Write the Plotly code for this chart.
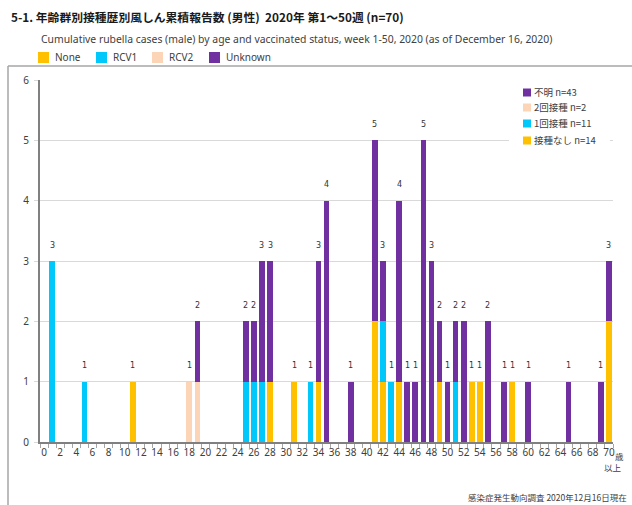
import plotly.graph_objects as go

ages = list(range(71))
tick_vals = list(range(0, 71, 2))
tick_text = [str(v) for v in range(0, 71, 2)]

# counts by age (index = age, 70 = 70歳以上)
none_vals = [0]*71
rcv1_vals = [0]*71
rcv2_vals = [0]*71
unknown_vals = [0]*71
for a, v in {11: 1, 28: 1, 31: 1, 34: 1, 41: 2, 42: 1, 44: 1, 49: 1, 53: 1, 54: 1, 58: 1, 70: 2}.items():
    none_vals[a] = v
for a, v in {1: 3, 5: 1, 25: 1, 26: 1, 27: 1, 33: 1, 42: 1, 43: 1, 51: 1}.items():
    rcv1_vals[a] = v
for a, v in {18: 1, 19: 1}.items():
    rcv2_vals[a] = v
for a, v in {19: 1, 25: 1, 26: 1, 27: 2, 28: 2, 34: 2, 35: 4, 38: 1, 41: 3, 42: 1, 44: 3,
             45: 1, 46: 1, 47: 5, 48: 3, 49: 1, 50: 1, 51: 1, 52: 2, 55: 2, 57: 1, 60: 1,
             65: 1, 69: 1, 70: 1}.items():
    unknown_vals[a] = v

series_names = ["None", "RCV1", "RCV2", "Unknown"]
series_names_jp = ["接種なし n=14", "1回接種 n=11", "2回接種 n=2", "不明 n=43"]
colors = ["#FFC000", "#00C8FA", "#FBD5B5", "#7030A0"]
series = [none_vals, rcv1_vals, rcv2_vals, unknown_vals]

totals = [sum(s[i] for s in series) for i in ages]

FONT = "Noto Sans, DejaVu Sans, Noto Sans CJK JP, sans-serif"
JFONT = "Noto Sans CJK JP, Noto Sans, sans-serif"
TXT = "#404040"

# plot-area pixel geometry (for legend placement in paper coords)
L, R, T, B = 40, 19, 80, 63
PW, PH = 632 - L - R, 505 - T - B
def px(x):
    return (x - L) / PW
def py(y):
    return (505 - B - y) / PH

fig = go.Figure()
for name, col, vals in zip(series_names, colors, series):
    fig.add_trace(go.Bar(x=ages, y=vals, name=name, marker_color=col,
                         marker_line_width=0, width=0.7, showlegend=False))

shapes = [
    dict(type="line", xref="paper", yref="paper", x0=px(8), x1=px(640), y0=py(66), y1=py(66),
         line=dict(color="#A6A6A6", width=1.5)),
    dict(type="line", xref="paper", yref="paper", x0=px(8), x1=px(8), y0=py(66), y1=py(515),
         line=dict(color="#A6A6A6", width=1.5)),
    # white background of the inner legend
    dict(type="rect", xref="paper", yref="paper", x0=px(509), x1=px(610), y0=py(150), y1=py(84),
         fillcolor="white", line=dict(width=0), layer="above"),
]
annotations = [
    dict(text="<b>5-1. 年齢群別接種歴別風しん累積報告数 (男性)  2020年 第1～50週 (n=70)</b>",
         xref="paper", yref="paper", x=px(9), y=py(17), xanchor="left", yanchor="middle",
         showarrow=False, font=dict(size=11.8, color="#1a1a1a", family=JFONT)),
    dict(text="Cumulative rubella cases (male) by age and vaccinated status, week 1-50, 2020 (as of December 16, 2020)",
         xref="paper", yref="paper", x=px(39), y=py(39), xanchor="left", yanchor="middle",
         showarrow=False, font=dict(size=10.4, color=TXT, family=FONT)),
    dict(text="感染症発生動向調査 2020年12月16日現在",
         xref="paper", yref="paper", x=px(466), y=py(497), xanchor="left", yanchor="middle",
         showarrow=False, font=dict(size=8.5, color=TXT, family=JFONT)),
    # "歳 / 以上" attached to the last tick label (70)
    dict(text="歳", x=70, xref="x", y=0, yref="y", xshift=10.5, yshift=-14, showarrow=False,
         xanchor="center", yanchor="middle", font=dict(size=8.5, color=TXT, family=JFONT)),
    dict(text="以上", x=70, xref="x", y=0, yref="y", xshift=4, yshift=-25, showarrow=False,
         xanchor="center", yanchor="middle", font=dict(size=8.5, color=TXT, family=JFONT)),
]

# top legend (English)
top_x = [38, 96, 152, 209]
for name, col, x0 in zip(series_names, colors, top_x):
    shapes.append(dict(type="rect", xref="paper", yref="paper", x0=px(x0), x1=px(x0 + 11),
                       y0=py(63), y1=py(52), fillcolor=col, line=dict(width=0)))
    annotations.append(dict(text=name, xref="paper", yref="paper", x=px(x0 + 15), y=py(57.5),
                            xanchor="left", yanchor="middle", showarrow=False,
                            font=dict(size=10, color=TXT, family=FONT)))

# inner legend (Japanese), reversed order
inner_y = [92, 107, 123, 140]
for (name, col), yc in zip(reversed(list(zip(series_names_jp, colors))), inner_y):
    shapes.append(dict(type="rect", xref="paper", yref="paper", x0=px(523), x1=px(531),
                       y0=py(yc + 4.5), y1=py(yc - 3.5), fillcolor=col, line=dict(width=0), layer="above"))
    annotations.append(dict(text=name, xref="paper", yref="paper", x=px(532), y=py(yc),
                            xanchor="left", yanchor="middle", showarrow=False,
                            font=dict(size=9.5, color=TXT, family=JFONT)))

# total labels above bars
for a in ages:
    if totals[a] > 0:
        annotations.append(dict(x=a, y=totals[a], text=str(totals[a]), showarrow=False,
                                yshift=16, xanchor="center", yanchor="middle",
                                font=dict(size=8, color="#333333", family="DejaVu Sans")))

fig.update_layout(
    width=632, height=505,
    barmode="stack",
    plot_bgcolor="white", paper_bgcolor="white",
    margin=dict(l=L, r=R, t=T, b=B, autoexpand=False),
    font=dict(family=FONT, size=10, color=TXT),
    showlegend=False,
    shapes=shapes,
    annotations=annotations,
)
fig.update_xaxes(range=[-0.5, 70.5], tickmode="array", tickvals=tick_vals, ticktext=tick_text,
                 tickangle=0, ticks="", showgrid=False, showline=True, linecolor="#808080", linewidth=2,
                 tickfont=dict(size=10, color=TXT, family=FONT),
                 minor=dict(ticks="outside", tick0=0.5, dtick=1, ticklen=4, tickcolor="#A6A6A6", showgrid=False))
fig.update_yaxes(range=[0, 6], dtick=1, showgrid=True, gridcolor="#D9D9D9", gridwidth=1,
                 showline=True, linecolor="#808080", linewidth=2, ticks="outside", ticklen=4,
                 tickcolor="#D9D9D9", tickfont=dict(size=10, color=TXT, family=FONT), zeroline=False,
                 ticklabelstandoff=3)

fig.write_html("out.html", config={"displayModeBar": False},
               post_script="document.body.style.margin='0';")
